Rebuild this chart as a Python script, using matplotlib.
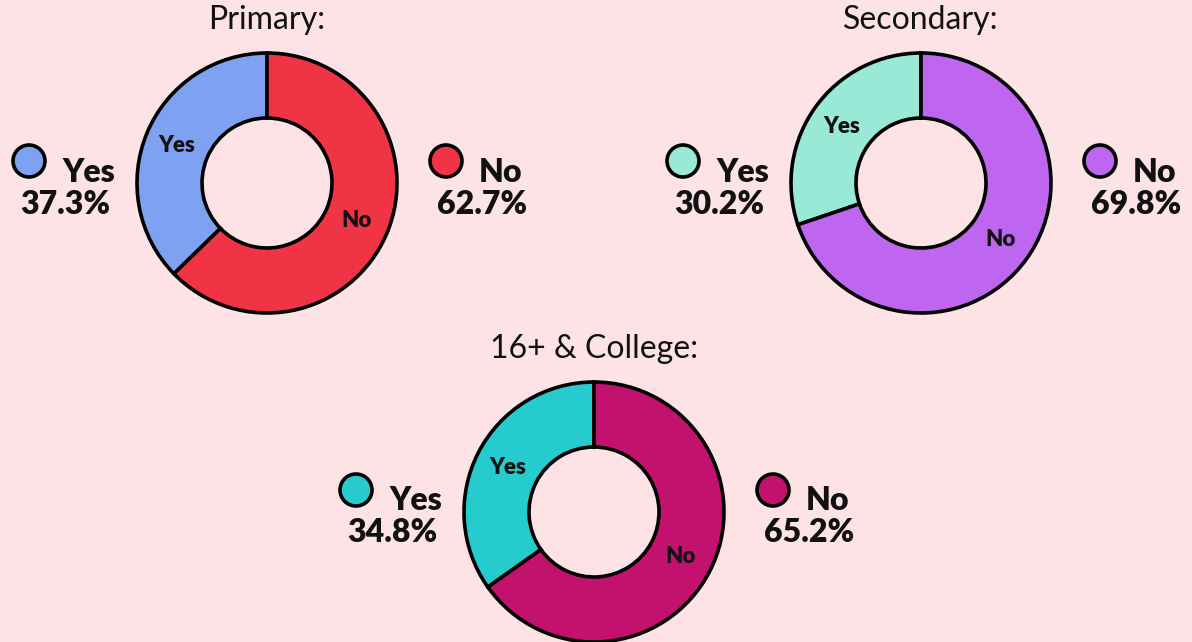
import numpy as np
import matplotlib
matplotlib.use("Agg")
import matplotlib.pyplot as plt
from matplotlib.patches import Circle

groups = ["Primary:", "Secondary:", "16+ & College:"]
categories = ["Yes", "No"]
yes_pct = [37.3, 30.2, 34.8]
no_pct = [62.7, 69.8, 65.2]
yes_colors = ["#7FA1F2", "#99E9D7", "#26CBCD"]
no_colors = ["#F03445", "#BE66F0", "#C3126E"]

BG = "#FDE3E6"
W, H = 1192, 642
FONT = ["Lato", "DejaVu Sans"]

fig = plt.figure(figsize=(W / 100, H / 100), dpi=100, facecolor=BG)
ax = fig.add_axes([0, 0, 1, 1])
ax.set_facecolor(BG)

# layout (pixel coordinates, y from top)
centers = [(267, 183), (921, 183), (594, 512)]
R = 130
title_y = [20, 20, 349]

for i, g in enumerate(groups):
    cx, cy = centers[i]
    cyd = H - cy
    vals = [yes_pct[i], no_pct[i]]
    wedges, _ = ax.pie(vals, colors=[yes_colors[i], no_colors[i]],
                       startangle=90, counterclock=True,
                       center=(cx, cyd), radius=R,
                       wedgeprops=dict(width=R * 0.5, edgecolor="black",
                                       linewidth=2.6), frame=True)
    for w, lab in zip(wedges, categories):
        mid = np.deg2rad((w.theta1 + w.theta2) / 2)
        rr = R * 0.75
        ax.text(cx + rr * np.cos(mid), cyd + rr * np.sin(mid), lab,
                ha="center", va="center", fontsize=16, fontweight="heavy",
                family=FONT, color="#111111")
    ax.text(cx, H - title_y[i], g, ha="center", va="center", fontsize=23,
            family=FONT, color="#111111")
    # legends
    for side, lab, val, col in [(-1, "Yes", yes_pct[i], yes_colors[i]),
                                (1, "No", no_pct[i], no_colors[i])]:
        if side < 0:
            mx = cx - 238
        else:
            mx = cx + 179
        my = H - (cy - 22)
        ax.add_patch(Circle((mx, my), 16, facecolor=col, edgecolor="black",
                            linewidth=2.6, zorder=5))
        ax.text(mx + 33, H - (cy - 11), lab, ha="left", va="center",
                fontsize=23, fontweight="heavy", family=FONT, color="#111111")
        ax.text(mx + 36, H - (cy + 21), f"{val:.1f}%", ha="center",
                va="center", fontsize=23, fontweight="heavy", family=FONT,
                color="#111111")

ax.set_xlim(0, W)
ax.set_ylim(0, H)
ax.set_aspect("equal")
ax.axis("off")
fig.savefig("out.png", dpi=100, facecolor=BG)
